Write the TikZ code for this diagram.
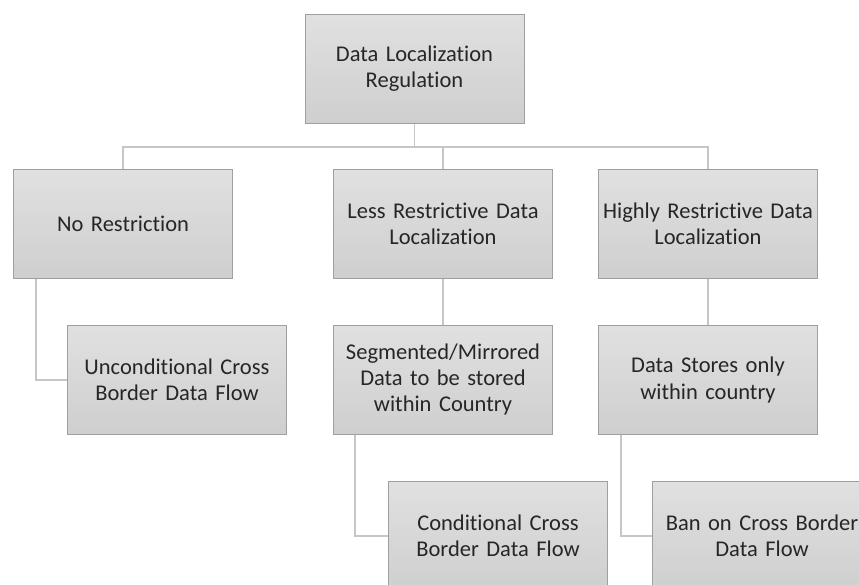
\documentclass[tikz,border=0pt]{standalone}
\usepackage{fontspec}
\setmainfont{Carlito}[Ligatures=NoCommon]
\usetikzlibrary{positioning,backgrounds,calc}

\tikzset{
  box/.style={rectangle, draw=gray!75, line width=1pt, top color=gray!24, bottom color=gray!38,
    minimum width=219pt, minimum height=109pt, text width=215pt, align=center,
    inner sep=0pt, font=\fontsize{22.5}{26}\selectfont, text=black!85},
  link/.style={draw=gray!45, line width=1.4pt}
}

\begin{document}
\begin{tikzpicture}[x=1pt,y=1pt]
 \useasboundingbox (0,0) rectangle (859,-585);
 \clip (0,0) rectangle (859,-585);
% nodes
 \node[box] (root) at (414.5,-69) {Data Localization\\Regulation};

 \node[box] (nr) at (123,-224) {No Restriction};
 \node[box, right=100pt of nr] (less) {Less Restrictive Data\\Localization};
 \node[box, right=45pt of less] (high) {Highly Restrictive Data\\Localization};

 \node[box, below=46pt of nr, xshift=54pt] (uncond) {Unconditional Cross\\Border Data Flow};
 \node[box, below=46pt of less] (seg) {Segmented/Mirrored\\Data to be stored\\within Country};
 \node[box, below=46pt of high] (store) {Data Stores only\\within country};

 \node[box, below=46pt of seg, xshift=55pt] (cond) {Conditional Cross\\Border Data Flow};
 \node[box, below=46pt of store, xshift=54pt] (ban) {Ban on Cross Border\\Data Flow};

% edges
 \begin{scope}[on background layer]
  \coordinate (bus) at (0,-147);
  \draw[link] (root.south) -- (root.south |- bus) -| (nr.north);
  \draw[link] (root.south |- bus) -| (high.north);
  \draw[link] (less.north |- bus) -- (less.north);
  \draw[link] ([xshift=23pt]nr.south west) |- (uncond.west);
  \draw[link] (less) -- (seg);
  \draw[link] (high) -- (store);
  \draw[link] ([xshift=22pt]seg.south west) |- (cond.west);
  \draw[link] ([xshift=23pt]store.south west) |- (ban.west);
 \end{scope}
\end{tikzpicture}
\end{document}
